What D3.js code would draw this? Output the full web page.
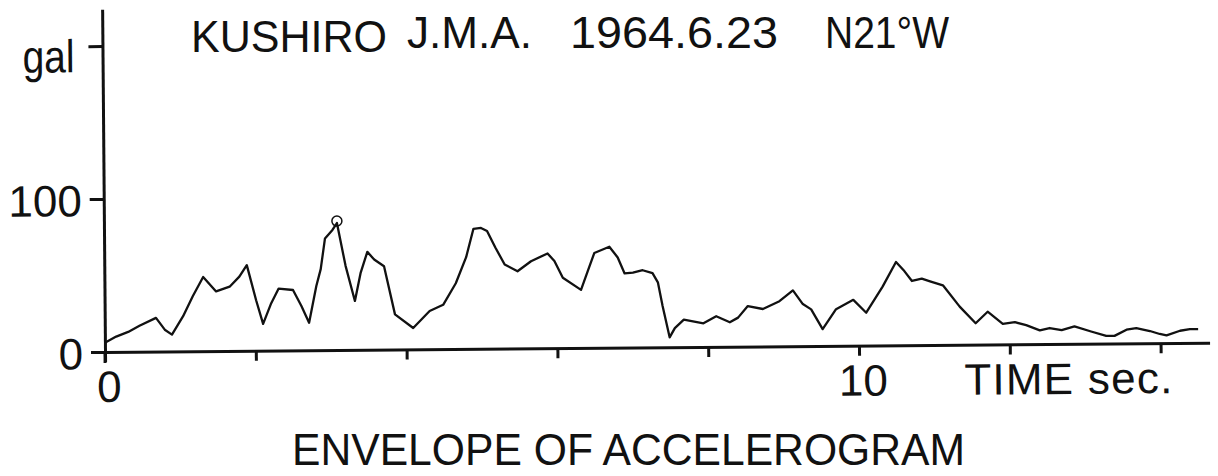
<!DOCTYPE html>
<html>
<head>
<meta charset="utf-8">
<script src="https://cdn.jsdelivr.net/npm/d3@7"></script>
<style>
  html, body { margin: 0; padding: 0; background: #fff; }
  svg { display: block; }
  text { font-family: "Liberation Sans", Arial, sans-serif; fill: #111; }
</style>
</head>
<body>
<svg id="chart" width="1218" height="476"></svg>
<script>
// Envelope of the accelerogram, Kushiro J.M.A., 1964.6.23, N21°W component
const timeSec = [
  0.00, 0.15, 0.31, 0.46, 0.68, 0.80, 0.89, 1.04, 1.17, 1.31,
  1.48, 1.66, 1.79, 1.89, 2.01, 2.10, 2.21, 2.31, 2.50, 2.61,
  2.71, 2.81, 2.87, 2.93, 3.03, 3.09, 3.20, 3.32, 3.40, 3.49,
  3.58, 3.71, 3.85, 4.09, 4.31, 4.49, 4.66, 4.80, 4.90, 5.00,
  5.08, 5.19, 5.31, 5.48, 5.66, 5.88, 5.97, 6.08, 6.32, 6.41,
  6.50, 6.70, 6.81, 6.90, 7.01, 7.14, 7.27, 7.34, 7.40, 7.49,
  7.56, 7.68, 7.94, 8.11, 8.29, 8.40, 8.53, 8.73, 8.95, 9.13,
  9.26, 9.37, 9.52, 9.70, 9.93, 10.10, 10.32, 10.50, 10.61, 10.71,
  10.84, 10.96, 11.12, 11.34, 11.55, 11.71, 11.91, 12.07, 12.22, 12.40,
  12.53, 12.69, 12.86, 13.08, 13.28, 13.39, 13.55, 13.68, 13.86, 13.99,
  14.08, 14.26, 14.39, 14.50
];
const accelGal = [
  6, 10, 13, 17, 22, 14, 11, 23, 36, 48.5,
  39, 42, 48.5, 56, 33, 17.5, 31, 40.5, 39.5, 29,
  18, 42, 53, 73, 78.5, 83, 55, 32, 50.5, 64,
  59, 54.5, 23, 14, 25, 29, 43, 60, 78.5, 79,
  77, 66, 55, 50.5, 57, 62, 57, 46, 38, 50,
  62, 66, 59, 48.5, 49, 50.5, 48.5, 42.5, 27, 6.5,
  12.5, 18, 15.5, 20, 16, 19, 26.5, 24.5, 29.5, 36.5,
  27.5, 24, 11, 24, 30, 21.5, 38.5, 54.5, 48.5, 42,
  43.5, 41.5, 39, 25, 14, 21.5, 13.5, 14.5, 12.5, 9,
  10.5, 9, 11.5, 8, 5, 5, 9, 10, 8, 6,
  5, 8, 9, 9
];

const xTickValues = [0, 2, 4, 6, 8, 10, 12, 14];
const xTickLabels = [{ t: 0, label: "0" }, { t: 10, label: "10" }];
const yTickValues = [0, 100, 200];
const yTickLabels = [{ v: 0, label: "0" }, { v: 100, label: "100" }];
const yUnit = { v: 200, label: "gal" };
const xUnit = "TIME sec.";
const titleParts = ["KUSHIRO", "J.M.A.", "1964.6.23", "N21°W"];
const caption = "ENVELOPE OF ACCELEROGRAM";

const svg = d3.select("#chart");
const ox = 105, oy = 352;

const x = d3.scaleLinear().domain([0, 14.65]).range([ox, ox + 14.65 * 75.4]);
const y = d3.scaleLinear().domain([0, 224]).range([oy, oy - 224 * 1.53]);

// The drawn frame sits at a very slight tilt
const plot = svg.append("g")
  .attr("transform", `rotate(-0.48, ${ox}, ${oy})`);

// x axis: ticks below the line
const xAxis = d3.axisBottom(x)
  .tickValues(xTickValues)
  .tickSize(10)
  .tickSizeOuter(0)
  .tickFormat("");
const gx = plot.append("g").attr("transform", `translate(0,${oy})`).call(xAxis);

// y axis: ticks to the left
const yAxis = d3.axisLeft(y)
  .tickValues(yTickValues)
  .tickSize(14)
  .tickSizeOuter(0)
  .tickFormat("");
const gy = plot.append("g").attr("transform", `translate(${ox},0)`).call(yAxis);

[gx, gy].forEach(g => {
  g.select(".domain").attr("stroke", "#111").attr("stroke-width", 3);
  g.selectAll(".tick line").attr("stroke", "#111").attr("stroke-width", 3);
});
// origin tick reaches a little below the x axis
plot.append("line")
  .attr("x1", x(0)).attr("x2", x(0))
  .attr("y1", y(0)).attr("y2", y(0) + 11)
  .attr("stroke", "#111").attr("stroke-width", 3);

// y tick labels
plot.selectAll(".ylab").data(yTickLabels).join("text")
  .attr("class", "ylab")
  .attr("x", ox - 22)
  .attr("y", d => y(d.v) + 17)
  .attr("text-anchor", "end")
  .attr("font-size", 44)
  .text(d => d.label);

plot.append("text")
  .attr("x", 25)
  .attr("y", y(yUnit.v) + 26)
  .attr("font-size", 46)
  .attr("textLength", 52)
  .attr("lengthAdjust", "spacingAndGlyphs")
  .text(yUnit.label);

// x tick labels
plot.selectAll(".xlab").data(xTickLabels).join("text")
  .attr("class", "xlab")
  .attr("x", d => x(d.t) + 4)
  .attr("y", oy + 50)
  .attr("text-anchor", "middle")
  .attr("font-size", 44)
  .text(d => d.label);

plot.append("text")
  .attr("x", 964)
  .attr("y", oy + 50)
  .attr("font-size", 44)
  .attr("textLength", 208)
  .attr("lengthAdjust", "spacing")
  .text(xUnit);

// envelope curve
const points = timeSec.map((t, i) => ({ t, v: accelGal[i] }));
const line = d3.line().x(d => x(d.t)).y(d => y(d.v));
plot.append("path")
  .datum(points)
  .attr("d", line)
  .attr("fill", "none")
  .attr("stroke", "#111")
  .attr("stroke-width", 2.3)
  .attr("stroke-linejoin", "round");

// peak marker
const peak = points.reduce((a, b) => (b.v > a.v ? b : a));
plot.append("circle")
  .attr("cx", x(peak.t))
  .attr("cy", y(peak.v) - 2)
  .attr("r", 5)
  .attr("fill", "none")
  .attr("stroke", "#111")
  .attr("stroke-width", 1.5);

// title
const titleLayout = [
  { x: 191, y: 52, w: 196 },
  { x: 407, y: 48, w: 125 },
  { x: 570, y: 48, w: 208 },
  { x: 825, y: 48, w: 124 }
];
svg.selectAll(".title").data(titleParts).join("text")
  .attr("class", "title")
  .attr("x", (d, i) => titleLayout[i].x)
  .attr("y", (d, i) => titleLayout[i].y)
  .attr("font-size", 45)
  .attr("textLength", (d, i) => titleLayout[i].w)
  .attr("lengthAdjust", "spacingAndGlyphs")
  .text(d => d);

// caption
svg.append("text")
  .attr("x", 292)
  .attr("y", 465)
  .attr("font-size", 44)
  .attr("textLength", 673)
  .attr("lengthAdjust", "spacingAndGlyphs")
  .text(caption);
</script>
</body>
</html>
